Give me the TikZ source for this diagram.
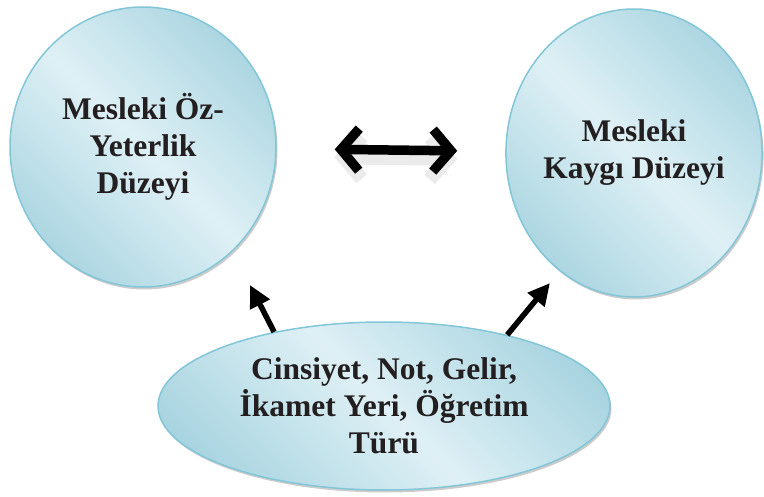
\documentclass[tikz,border=0pt]{standalone}
\usepackage{fontspec}
\setmainfont{Liberation Serif}
\usetikzlibrary{shapes.geometric,shadows,arrows.meta}
\definecolor{balon}{HTML}{A2D1DE}
\definecolor{balonacik}{HTML}{DEF0F5}
\definecolor{balonkenar}{HTML}{82C6D8}
\definecolor{yazi}{HTML}{231F20}
\pgfdeclarehorizontalshading{balonrenk}{100bp}{color(0bp)=(balon); color(20bp)=(balon); color(50bp)=(balonacik); color(80bp)=(balon); color(100bp)=(balon)}
\tikzset{
  balon/.style={ellipse, draw=balonkenar, line width=1.5pt, inner sep=0pt,
    shading=balonrenk, shading angle=45,
    drop shadow={shadow xshift=1.5pt, shadow yshift=-2.5pt, fill=black!40},
    align=center, text=yazi, font=\fontsize{31.5}{37}\selectfont\bfseries},
  ok/.style={-{Triangle[length=22pt,width=21pt]}, line width=5.5pt},
  cift/.style={{Straight Barb[length=18pt,width=42pt]}-{Straight Barb[length=18pt,width=42pt]},
    line width=9.5pt, line cap=round, line join=round}
}
\begin{document}
\begin{tikzpicture}[x=1pt,y=-1pt]
    \useasboundingbox (0,0) rectangle (764,497);
    \node[balon, minimum width=266pt, minimum height=280pt] (oz) at (143,147) {Mesleki Öz-\\Yeterlik\\Düzeyi};
    \node[balon, minimum width=256pt, minimum height=288pt] (kaygi) at (634,153) {Mesleki\\Kaygı Düzeyi};
    \node[balon, minimum width=452pt, minimum height=168pt] (degisken) at (384,406) {Cinsiyet, Not, Gelir,\\İkamet Yeri, Öğretim\\Türü};

    \coordinate (ucsol) at (250,285);
    \coordinate (ucsag) at (550,283);

    \draw [cift, draw=black!8, line width=14pt, transform canvas={yshift=-8pt}, shorten <=58pt, shorten >=48pt] (oz) -- (kaygi);
    \draw [cift, shorten <=58pt, shorten >=48pt] (oz) -- (kaygi);
    \draw [ok] (degisken.146) -- (ucsol);
    \draw [ok] (degisken.30) -- (ucsag);
\end{tikzpicture}
\end{document}
